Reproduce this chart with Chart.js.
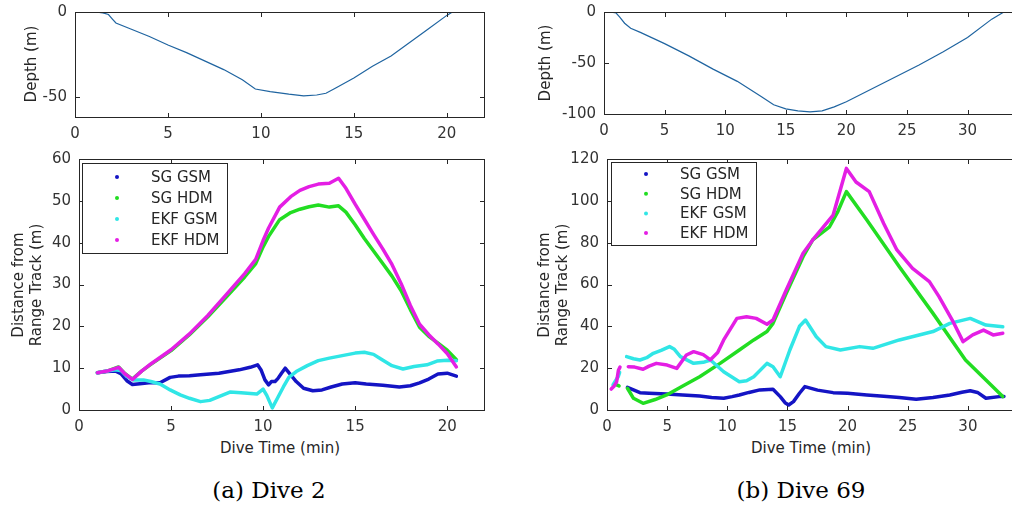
<!DOCTYPE html>
<html><head><meta charset="utf-8">
<script src="https://cdn.jsdelivr.net/npm/chart.js@4.4.1/dist/chart.umd.min.js"></script>
<style>
html,body{margin:0;padding:0;background:#fff;overflow:hidden;width:1012px;height:506px;}
#wrap{position:relative;width:1012px;height:506px;overflow:hidden;background:#fff;}
canvas{position:absolute;}
.lbl{position:absolute;font-family:'DejaVu Sans';font-size:15px;color:#262626;white-space:nowrap;line-height:18px;text-align:center;transform:translate(-50%,-50%);}
.rot{transform:translate(-50%,-50%) rotate(-90deg);}
.cap{position:absolute;font-family:'DejaVu Serif';font-size:23px;color:#000;white-space:nowrap;transform:translate(-50%,-50%);}
</style></head>
<body>
<div id="wrap">
<canvas id="c1" width="500" height="145" style="left:0;top:0"></canvas>
<canvas id="c2" width="500" height="290" style="left:0;top:145px"></canvas>
<canvas id="c3" width="530" height="145" style="left:500px;top:0"></canvas>
<canvas id="c4" width="530" height="290" style="left:500px;top:145px"></canvas>
<div class="lbl rot" style="left:31px;top:64px">Depth (m)</div>
<div class="lbl rot" style="left:545px;top:63px">Depth (m)</div>
<div class="lbl rot" style="left:27px;top:285px">Distance from<br>Range Track (m)</div>
<div class="lbl rot" style="left:553px;top:285px">Distance from<br>Range Track (m)</div>
<div class="lbl" style="left:280px;top:448px">Dive Time (min)</div>
<div class="lbl" style="left:811px;top:448px">Dive Time (min)</div>
<div class="cap" style="left:269px;top:490px">(a) Dive 2</div>
<div class="cap" style="left:801px;top:490px">(b) Dive 69</div>
</div>
<script>
// ---------- DATA ----------
const seriesLabels = ['SG GSM', 'SG HDM', 'EKF GSM', 'EKF HDM'];

// Dive 2 depth profile
const d2DepthT = [1.1,1.5,1.8,2.0,2.2,3,4,5,6,7,8,9,9.7,10.5,11.5,12.3,13.0,13.5,14,15,16,17,18,19,20,20.3];
const d2DepthV = [0,-0.5,-1.5,-4,-6.5,-10,-14.5,-19.5,-24,-29,-34,-40,-45.5,-47,-48.5,-49.5,-49,-48,-45,-39,-32,-26,-18,-10,-2,0];

// Dive 2 distances
const d2SgGsmT = [1,1.5,2,2.3,2.6,2.9,3.3,3.8,4.4,4.95,5.4,6,6.6,7.6,8.7,9.3,9.7,9.9,10.1,10.3,10.45,10.65,10.8,11.0,11.2,11.5,11.8,12.2,12.7,13.2,13.7,14.3,15,15.6,16.5,17.4,18,18.5,19,19.5,20,20.5];
const d2SgGsmV = [8.9,9.2,9.3,8.6,7,6.1,6.3,6.5,6.5,7.8,8.1,8.2,8.4,8.8,9.6,10.2,10.8,9.5,7.2,6,6.8,6.8,7.5,8.8,10,8.4,6.8,5.2,4.6,4.8,5.5,6.2,6.5,6.2,5.9,5.5,5.8,6.5,7.4,8.6,8.8,8.1];
const d2SgHdmT = [1,1.6,2.15,2.5,2.9,3.4,3.9,5,6,7,8,9,9.6,10,10.3,10.9,11.5,12,12.5,13,13.6,14.1,14.5,15,15.5,16,16.5,17,17.5,18,18.5,19,19.5,20,20.5];
const d2SgHdmV = [8.9,9.4,10.3,8.7,7.4,9.3,10.9,14.2,18,22.3,27,31.8,35,39,41.5,45.5,47.2,48,48.6,49,48.5,48.8,47.3,44.3,41,38,35,32,28.5,24,19.8,17.6,16,14.3,12];
const d2EkfGsmT = [1,1.5,2,2.3,2.6,2.95,3.5,3.9,4.4,4.95,5.5,6,6.6,7.1,7.6,8.2,8.8,9.66,10,10.2,10.5,10.8,11.1,11.4,11.8,12.4,13,13.6,14.3,15,15.5,16,16.4,17,17.6,18.2,18.9,19.45,20,20.5];
const d2EkfGsmV = [8.9,9.3,9.6,9.4,8,7.2,7.2,6.8,6.2,4.8,3.6,2.8,2,2.3,3.2,4.3,4.1,3.8,5,3.5,0.5,3,5.5,7.8,9.2,10.6,11.8,12.4,13,13.6,13.8,13.3,12.2,10.6,9.8,10.4,10.8,11.7,11.9,11.8];
const d2EkfHdmT = [1,1.6,2.15,2.5,2.9,3.4,3.9,5,6,7,8,9,9.6,10,10.3,10.9,11.5,12,12.5,13,13.6,14.1,14.5,15,15.5,16,16.5,17,17.5,18,18.5,19,19.5,20,20.5];
const d2EkfHdmV = [8.9,9.4,10.2,8.6,7.3,9.3,11,14.4,18.2,22.6,27.6,32.6,36,40.5,43.5,48.5,51,52.5,53.4,54,54.2,55.4,53,49.2,45.6,42,38.5,34.8,30.2,25,20.5,18,15.8,13.5,10.3];

// Dive 69 depth profile
const d69DepthT = [0.5,1.0,1.3,1.7,2.2,3,5,7,9,11,13,14,15,16,17,18,19,20,22,24,26,28,30,32,33];
const d69DepthV = [0,-1,-5,-11,-16,-20,-31,-43,-56,-68,-83,-91,-95,-97,-98,-97,-93,-88,-76,-64,-52,-39,-25,-7,0];

// Dive 69 distances (null = gap in record)
const d69SgGsmT = [1.7,2.2,2.74,3.5,4.96,6.3,7.7,8.7,9.7,10.4,11,11.8,12.7,13.8,14.4,14.8,15.1,15.5,16.0,16.45,17.5,18.8,20,21.6,23,24.3,25.7,27.1,28.5,29.5,30.2,30.8,31.5,32.6,33];
const d69SgGsmV = [10.8,9.6,8.3,8,7.6,7.2,6.7,6,5.6,6.4,7.2,8.4,9.6,9.9,6.4,3.5,2.4,4,8,11.2,9.5,8.3,8,7.2,6.6,6,5.1,6,7.2,8.5,9.2,8.4,5.6,6.4,6.5];
const d69SgHdmT = [0.8,1.0,1.3,1.7,2.2,3.0,4,4.96,6.3,7.7,9.4,11,12.2,13.3,13.8,14.9,16.3,17.1,18.5,19.2,19.9,21.6,24.3,27.1,29.8,31.5,32.9];
const d69SgHdmV = [12,11.5,null,10.4,5.6,3.2,5,7.2,11.5,15.9,22.3,28.7,33.5,37.5,41.4,55.8,73.3,81.3,87.6,95,104.4,90.8,68.5,46.2,23.9,14.3,6.4];
const d69EkfGsmT = [0.5,0.66,0.94,1.05,1.3,1.63,2.2,2.74,3.3,3.85,4.5,5.2,5.6,6.1,7.2,8,8.6,9.7,11,11.6,12.2,13.3,13.8,14.4,15.2,16.0,16.5,17.4,18.2,19.4,21,22.1,24.3,27.1,28.5,30.2,31.5,32.9];
const d69EkfGsmV = [12,13.5,16,18,null,25.5,24.5,23.9,25,27.1,28.5,30.3,29,25.5,22.3,22.8,23.9,18.3,13.5,14,15.9,22.3,20.7,15.9,28.7,40,43,35,30.3,28.7,30.3,29.5,33.5,37.5,41.4,43.8,40.6,39.8];
const d69EkfHdmT = [0.35,0.6,0.8,0.95,1.08,1.3,1.77,2.3,3.0,3.5,4.1,5,5.8,6.6,7.2,8,8.6,9.2,9.7,10.8,11.6,12.4,13.3,13.8,14.9,16.3,17.1,18.8,19.9,20.7,21.8,23,24.1,25.4,26.8,27.6,28.7,29.6,30.4,31.3,32.1,32.9];
const d69EkfHdmV = [10,11.5,13.5,19,20.5,null,20.7,20.5,19.5,21,22.3,21.5,19.9,26.3,27.9,26.5,24,27.5,33.5,43.8,44.6,43.8,41,43,57.4,74.9,81.3,93.2,115.5,109,104.4,89.2,76.5,67.7,61.4,54.2,43,32.7,35.9,38.2,35.9,36.7];

// Axis ticks
const d2XTicks = {min: 0, max: 22, step: 5};
const d69XTicks = {min: 0, max: 34, step: 5};
const d2DepthTicks = {min: -62, max: 0, step: 50};
const d69DepthTicks = {min: -100, max: 0, step: 50};
const d2DistTicks = {min: 0, max: 60, step: 10};
const d69DistTicks = {min: 0, max: 120, step: 20};

// ---------- HELPERS ----------
const zip = (t, v) => t.map((x, i) => ({x: x, y: v[i]}));
const seriesColors = ['#1414c4', '#22dd22', '#30e6e6', '#e41ee4'];
const FONT = {family: 'DejaVu Sans', size: 15};
const TXT = '#333333';
const FRAME = '#262626';

const framePlugin = {
  id: 'mFrame',
  afterDraw(chart, args, o) {
    const ctx = chart.ctx, ca = chart.chartArea;
    ctx.save();
    try {
      ctx.fillStyle = FRAME;
      const L = Math.round(ca.left), T = Math.round(ca.top);
      const R = Math.round(ca.right), B = Math.round(ca.bottom);
      ctx.fillRect(L, T, R - L + 1, 1);
      ctx.fillRect(L, B, R - L + 1, 1);
      ctx.fillRect(L, T, 1, B - T + 1);
      ctx.fillRect(R, T, 1, B - T + 1);
      const tk = 4;
      const xs = chart.scales.x, ys = chart.scales.y;
      xs.ticks.forEach(t => {
        const px = Math.round(xs.getPixelForValue(t.value));
        ctx.fillRect(px, B - tk, 1, tk);
        ctx.fillRect(px, T + 1, 1, tk);
      });
      ys.ticks.forEach(t => {
        const py = Math.round(ys.getPixelForValue(t.value));
        ctx.fillRect(L + 1, py, tk, 1);
        ctx.fillRect(R - tk, py, tk, 1);
      });
      if (o && o.box) {
        const x0 = Math.round(ca.left + o.box[0]), y0 = Math.round(ca.top + o.box[1]);
        const w = o.box[2], h = o.box[3];
        ctx.fillStyle = '#fff';
        ctx.fillRect(x0, y0, w, h);
        ctx.fillStyle = FRAME;
        ctx.fillRect(x0, y0, w + 1, 1);
        ctx.fillRect(x0, y0 + h, w + 1, 1);
        ctx.fillRect(x0, y0, 1, h + 1);
        ctx.fillRect(x0 + w, y0, 1, h + 1);
        ctx.font = '15px "DejaVu Sans"';
        ctx.textBaseline = 'middle';
        ctx.textAlign = 'left';
        chart.data.datasets.forEach((ds, i) => {
          const y = y0 + o.firstY + i * o.rowH;
          ctx.fillStyle = ds.borderColor;
          ctx.beginPath(); ctx.arc(x0 + o.dotX, y, 2, 0, Math.PI * 2); ctx.fill();
          ctx.fillStyle = FRAME;
          ctx.fillText(ds.label, x0 + o.textX, y + 1);
        });
      }
    } catch (e) { /* keep chart visible */ }
    ctx.restore();
  }
};

function axis(tk, fitSize, isX, pad) {
  return {
    type: 'linear',
    min: tk.min, max: tk.max,
    ticks: {stepSize: tk.step, includeBounds: false, font: FONT, color: TXT, padding: pad, maxRotation: 0, autoSkip: false},
    grid: {display: false, drawTicks: false},
    border: {display: true, color: FRAME, width: 1},
    afterFit: s => {
      if (isX) s.height = fitSize; else s.width = fitSize;
      s.paddingTop = 0; s.paddingBottom = 0; s.paddingLeft = 0; s.paddingRight = 0;
    }
  };
}
// mirror axes (top / right) that only draw the box edge, like MATLAB "box on"
function mirror(tk, isX) {
  return {
    type: 'linear', position: isX ? 'top' : 'right',
    min: tk.min, max: tk.max,
    ticks: {display: false, stepSize: tk.step, includeBounds: false},
    grid: {display: false, drawTicks: false},
    border: {display: true, color: FRAME, width: 1},
    afterFit: s => {
      if (isX) s.height = 0; else s.width = 0;
      s.paddingTop = 0; s.paddingBottom = 0; s.paddingLeft = 0; s.paddingRight = 0;
    }
  };
}

function makeChart(id, datasets, xTk, yTk, yW, xH, padTop, padRight, legend) {
  return new Chart(document.getElementById(id), {
    type: 'scatter',
    data: {datasets: datasets},
    options: {
      responsive: false, animation: false, devicePixelRatio: 1,
      layout: {padding: {top: padTop, right: padRight, left: 0, bottom: 0}},
      scales: {x: axis(xTk, xH, true, 8), y: axis(yTk, yW, false, 8), x2: mirror(xTk, true), y2: mirror(yTk, false)},
      plugins: {legend: {display: false}, tooltip: {enabled: false}, mFrame: legend || {}},
      elements: {point: {radius: 0, hoverRadius: 0}}
    },
    plugins: [framePlugin]
  });
}

function depthSet(t, v) {
  return [{label: 'depth', data: zip(t, v), showLine: true, borderColor: '#1f64a0', borderWidth: 1.2, pointRadius: 0, tension: 0}];
}
function distSets(list) {
  return list.map((p, i) => ({
    label: seriesLabels[i], data: zip(p[0], p[1]), showLine: true,
    borderColor: seriesColors[i], backgroundColor: seriesColors[i],
    borderWidth: 3.5, pointRadius: 0, tension: 0, spanGaps: false,
    borderJoinStyle: 'round', borderCapStyle: 'round', order: 3 - i
  }));
}

makeChart('c1', depthSet(d2DepthT, d2DepthV), d2XTicks, d2DepthTicks, 75, 28, 12, 16);
makeChart('c2', distSets([[d2SgGsmT, d2SgGsmV], [d2SgHdmT, d2SgHdmV], [d2EkfGsmT, d2EkfGsmV], [d2EkfHdmT, d2EkfHdmV]]),
  d2XTicks, d2DistTicks, 79, 25, 14, 16, {box: [3, 4, 145, 90], firstY: 14, rowH: 21, dotX: 35, textX: 69});
makeChart('c3', depthSet(d69DepthT, d69DepthV), d69XTicks, d69DepthTicks, 104, 31, 12, 14);
makeChart('c4', distSets([[d69SgGsmT, d69SgGsmV], [d69SgHdmT, d69SgHdmV], [d69EkfGsmT, d69EkfGsmV], [d69EkfHdmT, d69EkfHdmV]]),
  d69XTicks, d69DistTicks, 107, 25, 14, 14, {box: [4, 3, 145, 83], firstY: 12, rowH: 19.7, dotX: 35, textX: 69});
</script>
</body></html>
